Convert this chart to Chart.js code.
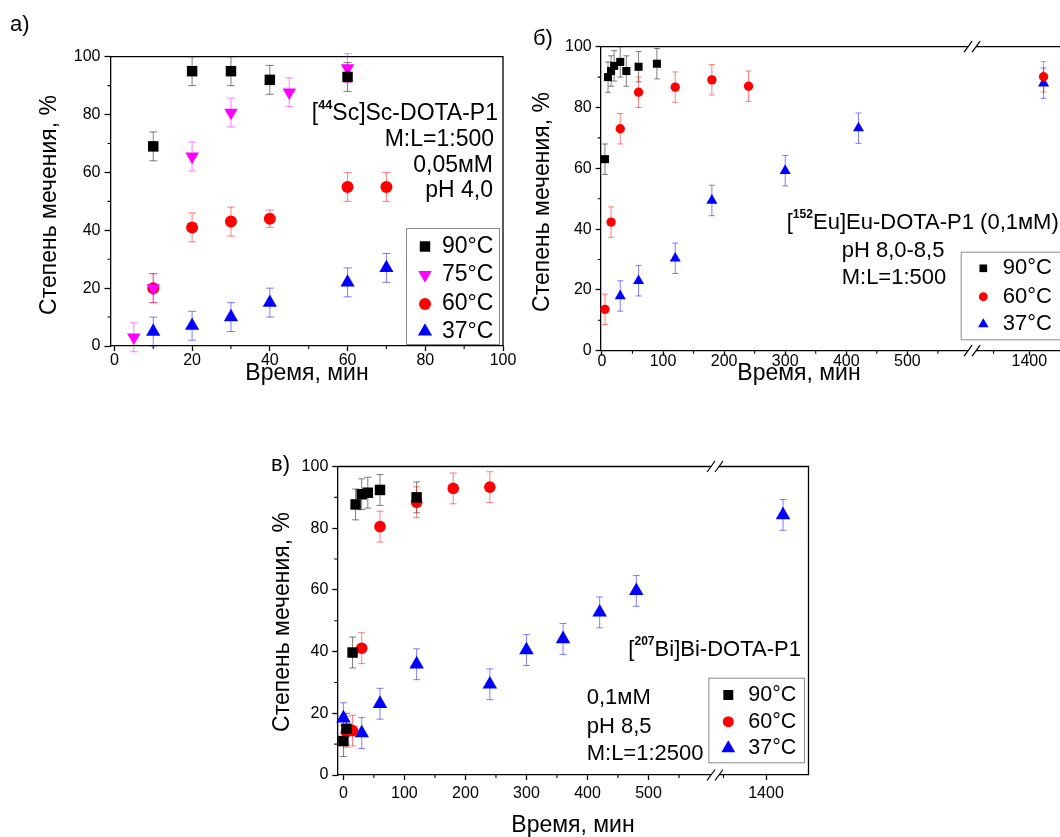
<!DOCTYPE html>
<html>
<head>
<meta charset="utf-8">
<script src="https://cdn.jsdelivr.net/npm/chart.js@4/dist/chart.umd.min.js"></script>
<style>
    html, body { margin: 0; padding: 0; background: #fff; overflow: hidden; width: 1060px; height: 837px; }
    canvas { position: absolute; }
</style>
</head>
<body>
<canvas id="chart-a" width="520" height="400" style="left:0px;top:0px"></canvas>
<canvas id="chart-b" width="560" height="400" style="left:520px;top:0px"></canvas>
<canvas id="chart-c" width="560" height="397" style="left:260px;top:440px"></canvas>
<script>
// ---- panel a: [44Sc]Sc-DOTA-P1
const timeA90 = [10, 20, 30, 40, 60];
const valA90 = [69, 95, 95, 92, 93];
const errA90 = [5, 5, 5, 5, 5];
const timeA75 = [5, 10, 20, 30, 45, 60];
const valA75 = [3, 20, 65.5, 80.7, 87.7, 96];
const errA75 = [5, 5, 5, 5, 5, 5];
const timeA60 = [10, 20, 30, 40, 60, 70];
const valA60 = [20, 41, 43, 44, 55, 55];
const errA60 = [5, 5, 5, 3, 5, 5];
const timeA37 = [10, 20, 30, 40, 60, 70];
const valA37 = [5, 7, 10, 15, 22, 27];
const errA37 = [5, 5, 5, 5, 5, 5];

// ---- panel b: [152Eu]Eu-DOTA-P1
const timeB90 = [5, 10, 15, 20, 30, 40, 60, 90];
const valB90 = [63, 90, 92, 93.7, 95, 92, 93.4, 94.4];
const errB90 = [5, 5, 5, 5, 5, 5, 5, 5];
const timeB60 = [5, 15, 30, 60, 120, 180, 240];
const valB60 = [13.6, 42.3, 73, 85, 86.7, 89.1, 87];
const errB60 = [5, 5, 5, 5, 5, 5, 5];
const timeB37 = [30, 60, 120, 180, 300, 420];
const valB37 = [18, 23, 30.4, 49.4, 59.2, 73.2];
const errB37 = [5, 5, 5, 5, 5, 5];
const lateB60 = [1420];
const lateValB60 = [90.1];
const lateErrB60 = [5];
const lateB37 = [1420];
const lateValB37 = [88];
const lateErrB37 = [5];

// ---- panel c: [207Bi]Bi-DOTA-P1
const timeC90 = [0, 5, 15, 20, 30, 40, 60, 120];
const valC90 = [11, 15, 39.7, 87.7, 91, 91.5, 92.4, 90];
const errC90 = [5, 5, 5, 5, 5, 5, 5, 5];
const timeC60 = [5, 15, 30, 60, 120, 180, 240];
const valC60 = [14, 14.4, 41.1, 80.5, 88.4, 92.9, 93.3];
const errC60 = [5, 5, 5, 5, 5, 5, 5];
const timeC37 = [0, 30, 60, 120, 240, 300, 360, 420, 480];
const valC37 = [18.4, 13.6, 23.1, 35.9, 29.4, 40.5, 44.1, 52.7, 59.7];
const errC37 = [5, 5, 5, 5, 5, 5, 5, 5, 5];
const lateC37 = [1420];
const lateValC37 = [84.3];
const lateErrC37 = [5];

// ---- ticks
const yTicks = [0, 20, 40, 60, 80, 100];
const xTicksA = [0, 20, 40, 60, 80, 100];
const xTicksEarly = [0, 100, 200, 300, 400, 500];
const xTicksLate = [1400];

const FONT = "'Liberation Sans', Arial, sans-serif";
Chart.defaults.font.family = FONT;
Chart.defaults.color = '#000';

function series(label, xs, ys, errs, style, axis) {
    let pts = [];
    for (let i = 0; i < xs.length; i++) {
        pts.push({x: xs[i], y: ys[i]});
    }
    return Object.assign({
        label: label,
        data: pts,
        err: errs,
        xAxisID: axis || 'x',
        showLine: false,
        clip: false,
        borderWidth: 0,
        pointBorderWidth: 0,
        inLegend: !axis
    }, style);
}

function look(shape, r, color, errColor, cap, rot) {
    return {
        pointStyle: shape,
        pointRadius: r,
        pointRotation: rot || 0,
        backgroundColor: color,
        pointBackgroundColor: color,
        borderColor: color,
        errColor: errColor,
        capWidth: cap
    };
}

function marker(ctx, style, r, rot, x, y) {
    ctx.beginPath();
    if (style === 'rect') {
        let s = r * Math.SQRT1_2;
        ctx.rect(x - s, y - s, 2 * s, 2 * s);
    } else if (style === 'circle') {
        ctx.arc(x, y, r, 0, Math.PI * 2);
    } else {
        let a = rot * Math.PI / 180;
        for (let k = 0; k < 3; k++) {
            let px = x + Math.sin(a) * r, py = y - Math.cos(a) * r;
            if (k == 0) ctx.moveTo(px, py); else ctx.lineTo(px, py);
            a += 2 * Math.PI / 3;
        }
        ctx.closePath();
    }
    ctx.fill();
}

function drawRich(ctx, item) {
    let size = item.size;
    let parts = typeof item.text === 'string' ? [[item.text, 0]] : item.text;
    let w = 0;
    for (const p of parts) {
        ctx.font = (p[1] ? 'bold ' + size * 0.55 : size) + 'px ' + FONT;
        w += ctx.measureText(p[0]).width;
    }
    ctx.save();
    ctx.translate(item.x, item.y);
    if (item.rotate) ctx.rotate(item.rotate * Math.PI / 180);
    let cx = item.align === 'right' ? -w : item.align === 'center' ? -w / 2 : 0;
    ctx.textAlign = 'left';
    ctx.textBaseline = 'middle';
    ctx.fillStyle = '#000';
    for (const p of parts) {
        ctx.font = (p[1] ? 'bold ' + size * 0.55 : size) + 'px ' + FONT;
        ctx.fillText(p[0], cx, p[1] ? -size * 0.38 : 0);
        cx += ctx.measureText(p[0]).width;
    }
    ctx.restore();
}

const errorBars = {
    id: 'errorBars',
    beforeDatasetsDraw(chart) {
        let ctx = chart.ctx;
        let ys = chart.scales.y;
        chart.data.datasets.forEach(function (ds, i) {
            if (!ds.err) return;
            let meta = chart.getDatasetMeta(i);
            ctx.save();
            ctx.strokeStyle = ds.errColor;
            ctx.lineWidth = 1;
            meta.data.forEach(function (pt, j) {
                let v = ds.data[j].y, e = ds.err[j];
                let top = ys.getPixelForValue(v + e), bot = ys.getPixelForValue(v - e);
                let c = ds.capWidth / 2;
                ctx.beginPath();
                ctx.moveTo(pt.x, top); ctx.lineTo(pt.x, bot);
                ctx.moveTo(pt.x - c, top); ctx.lineTo(pt.x + c, top);
                ctx.moveTo(pt.x - c, bot); ctx.lineTo(pt.x + c, bot);
                ctx.stroke();
            });
            ctx.restore();
        });
    }
};

function breakMark(ctx, bx, by) {
    ctx.fillStyle = '#fff';
    ctx.fillRect(bx - 4, by - 2, 8, 4);
    ctx.strokeStyle = '#000';
    ctx.lineWidth = 1.2;
    ctx.beginPath();
    for (const dx of [-4, 4]) {
        ctx.moveTo(bx + dx - 4, by + 5.5);
        ctx.lineTo(bx + dx + 4, by - 5.5);
    }
    ctx.stroke();
}

function minors(scale) {
    let vals = scale.ticks.map(t => t.value);
    let step = scale.options.minorStep;
    let out = [];
    for (const v of vals) {
        for (const m of [v - step / 2, v + step / 2]) {
            if (m > scale.min && m < scale.max && out.indexOf(m) < 0) out.push(m);
        }
    }
    return out;
}

const decor = {
    id: 'decor',
    afterDraw(chart, args, opts) {
        let ctx = chart.ctx;
        let a = chart.chartArea;
        ctx.save();
        // top and right spines
        ctx.strokeStyle = '#000';
        ctx.lineWidth = 1.3;
        ctx.beginPath();
        ctx.moveTo(a.left, a.top);
        ctx.lineTo(a.right, a.top);
        ctx.lineTo(a.right, a.bottom);
        ctx.stroke();
        // minor ticks
        ctx.lineWidth = 1.1;
        ctx.beginPath();
        for (const id of Object.keys(chart.scales)) {
            let s = chart.scales[id];
            if (!s.options.minorStep) continue;
            for (const m of minors(s)) {
                let p = s.getPixelForValue(m);
                if (s.isHorizontal()) {
                    ctx.moveTo(p, a.bottom); ctx.lineTo(p, a.bottom + 3);
                } else {
                    ctx.moveTo(a.left, p); ctx.lineTo(a.left - 3, p);
                }
            }
        }
        ctx.stroke();
        if (chart.scales.x2) {
            let bx = chart.scales.x.right;
            breakMark(ctx, bx, a.top);
            breakMark(ctx, bx, a.bottom);
        }
        // legend box
        let lg = opts.legend;
        ctx.fillStyle = '#fff';
        ctx.fillRect(lg.box[0], lg.box[1], lg.box[2] - lg.box[0], lg.box[3] - lg.box[1]);
        ctx.strokeStyle = '#8a8a8a';
        ctx.lineWidth = 1;
        ctx.strokeRect(lg.box[0] + 0.5, lg.box[1] + 0.5, lg.box[2] - lg.box[0], lg.box[3] - lg.box[1]);
        let row = 0;
        chart.data.datasets.forEach(function (ds) {
            if (!ds.inLegend) return;
            let y = lg.rows[row++];
            ctx.fillStyle = ds.backgroundColor;
            marker(ctx, ds.pointStyle, ds.pointRadius * lg.scale, ds.pointRotation, lg.markerX, y);
            drawRich(ctx, {text: ds.label, x: lg.textX, y: y, size: lg.size});
        });
        for (const t of opts.texts) drawRich(ctx, t);
        ctx.restore();
    }
};

function axisStyle(tickLen) {
    return {
        border: {display: true, color: '#000', width: 1.3},
        grid: {display: true, drawOnChartArea: false, drawTicks: true, tickLength: tickLen, tickColor: '#000', tickWidth: 1.3},
        ticks: {color: '#000', font: {family: FONT, size: 16}, callback: v => String(v)}
    };
}

function xAxis(min, max, ticks, tickLen, height, labelPad, extra) {
    let ax = axisStyle(tickLen);
    ax.type = 'linear';
    ax.position = 'bottom';
    ax.min = min;
    ax.max = max;
    ax.minorStep = ticks.length > 1 ? (ticks[1] - ticks[0]) : 100;
    ax.ticks.padding = labelPad;
    ax.afterBuildTicks = function (s) { s.ticks = ticks.map(v => ({value: v})); };
    ax.afterFit = function (s) { s.height = height; };
    return Object.assign(ax, extra || {});
}

function yAxis(tickLen, width) {
    let ax = axisStyle(tickLen);
    ax.type = 'linear';
    ax.min = 0;
    ax.max = 100;
    ax.minorStep = 20;
    ax.ticks.padding = 4;
    ax.afterBuildTicks = function (s) { s.ticks = yTicks.map(v => ({value: v})); };
    ax.afterFit = function (s) { s.width = width; };
    return ax;
}

function buildChart(id, datasets, scales, padding, decorOpts) {
    return new Chart(document.getElementById(id), {
        type: 'scatter',
        data: {datasets: datasets},
        options: {
            responsive: false,
            animation: false,
            events: [],
            layout: {padding: padding},
            scales: scales,
            plugins: {legend: {display: false}, tooltip: {enabled: false}, decor: decorOpts}
        },
        plugins: [errorBars, decor]
    });
}

const GREY = 'rgba(0,0,0,0.5)';
const PINK = 'rgba(255,0,255,0.5)';
const ROSE = 'rgba(255,0,0,0.5)';
const SKY = 'rgba(0,0,255,0.5)';

// panel a
buildChart('chart-a', [
    series('90°C', timeA90, valA90, errA90, look('rect', 7.4, '#000', GREY, 8)),
    series('75°C', timeA75, valA75, errA75, look('triangle', 7.8, '#ff00ff', PINK, 8, 180)),
    series('60°C', timeA60, valA60, errA60, look('circle', 6, '#ff0000', ROSE, 8)),
    series('37°C', timeA37, valA37, errA37, look('triangle', 8.2, '#0000ff', SKY, 8))
], {
    x: xAxis(-1, 100, xTicksA, 5, 54, 0),
    y: yAxis(6, 110.5)
}, {top: 56.7, right: 17, left: 0, bottom: 0}, {
    legend: {box: [406, 228, 499, 344], markerX: 425, textX: 442, rows: [246.5, 275, 304, 331.5], size: 23, scale: 1},
    texts: [
        {text: 'а)', x: 10, y: 25, size: 22},
        {text: 'Степень мечения, %', x: 50, y: 205, size: 23, align: 'center', rotate: -90},
        {text: 'Время, мин', x: 307, y: 374, size: 23, align: 'center'},
        {text: [['[', 0], ['44', 1], ['Sc]Sc-DOTA-P1', 0]], x: 498, y: 114, size: 23, align: 'right'},
        {text: 'M:L=1:500', x: 494, y: 140, size: 23, align: 'right'},
        {text: '0,05мМ', x: 493, y: 165.5, size: 23, align: 'right'},
        {text: 'pH 4,0', x: 493, y: 191, size: 23, align: 'right'}
    ]
});

// panel b
buildChart('chart-b', [
    series('90°C', timeB90, valB90, errB90, look('rect', 5.7, '#000', GREY, 6)),
    series('60°C', timeB60, valB60, errB60, look('circle', 4.7, '#ff0000', ROSE, 6)),
    series('37°C', timeB37, valB37, errB37, look('triangle', 6.4, '#0000ff', SKY, 6)),
    series('60°C', lateB60, lateValB60, lateErrB60, look('circle', 4.7, '#ff0000', ROSE, 6), 'x2'),
    series('37°C', lateB37, lateValB37, lateErrB37, look('triangle', 6.4, '#0000ff', SKY, 6), 'x2')
], {
    x: xAxis(-2, 606, xTicksEarly, 5, 49.3, -4, {stack: 'bx', stackWeight: 371.5}),
    x2: xAxis(1320, 1450, xTicksLate, 5, 49.3, -4, {stack: 'bx', stackWeight: 92.9}),
    y: yAxis(5, 80.7)
}, {top: 46.7, right: 15, left: 0, bottom: 0}, {
    legend: {box: [440.7, 251.7, 560, 339.3], markerX: 463.3, textX: 482.7, rows: [268.3, 296.7, 324.3], size: 22, scale: 0.95},
    texts: [
        {text: 'б)', x: 13, y: 39, size: 22},
        {text: 'Степень мечения, %', x: 23, y: 202, size: 23, align: 'center', rotate: -90},
        {text: 'Время, мин', x: 279, y: 374, size: 23, align: 'center'},
        {text: [['[', 0], ['152', 1], ['Eu]Eu-DOTA-P1 (0,1мМ)', 0]], x: 266.7, y: 223.3, size: 22},
        {text: 'pH 8,0-8,5', x: 321.7, y: 251, size: 22},
        {text: 'M:L=1:500', x: 321.7, y: 278, size: 22}
    ]
});

// panel c
buildChart('chart-c', [
    series('90°C', timeC90, valC90, errC90, look('rect', 7.4, '#000', GREY, 7)),
    series('60°C', timeC60, valC60, errC60, look('circle', 5.8, '#ff0000', ROSE, 7)),
    series('37°C', timeC37, valC37, errC37, look('triangle', 8.4, '#0000ff', SKY, 7)),
    series('37°C', lateC37, lateValC37, lateErrC37, look('triangle', 8.4, '#0000ff', SKY, 7), 'x2')
], {
    x: xAxis(-10, 609, xTicksEarly, 5, 62, 4, {stack: 'cx', stackWeight: 377.7}),
    x2: xAxis(1340, 1450, xTicksLate, 5, 62, 4, {stack: 'cx', stackWeight: 93.5}),
    y: yAxis(5, 77.3)
}, {top: 26.5, right: 11.5, left: 0, bottom: 0}, {
    legend: {box: [448.3, 237.7, 544, 322.3], markerX: 468.3, textX: 488.3, rows: [255, 281.7, 308.3], size: 21.5, scale: 0.95},
    texts: [
        {text: 'в)', x: 11, y: 25, size: 22},
        {text: 'Степень мечения, %', x: 23, y: 182, size: 23, align: 'center', rotate: -90},
        {text: 'Время, мин', x: 313, y: 386, size: 23, align: 'center'},
        {text: [['[', 0], ['207', 1], ['Bi]Bi-DOTA-P1', 0]], x: 368.3, y: 210, size: 22},
        {text: '0,1мМ', x: 326.7, y: 258.3, size: 22},
        {text: 'pH 8,5', x: 326.7, y: 286.7, size: 22},
        {text: 'M:L=1:2500', x: 326.7, y: 314, size: 22}
    ]
});
</script>
</body>
</html>
